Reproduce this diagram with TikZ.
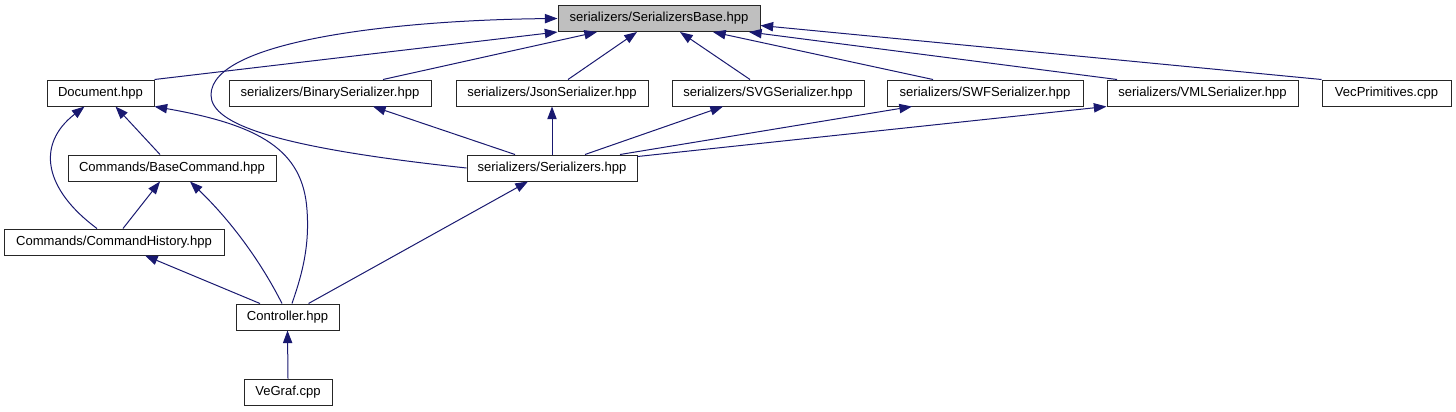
\documentclass[tikz,border=0pt]{standalone}
\usepackage{fontspec}
\setmainfont{Liberation Sans}
\usepackage{xcolor}
\usetikzlibrary{arrows.meta, calc}

\definecolor{edgeblue}{HTML}{191970}

\tikzset{
    file/.style={draw=black!85, line width=0.75pt, fill=white, inner sep=0pt,
        minimum width=#1*0.75pt, minimum height=19.5pt,
        font=\fontsize{9.8pt}{11pt}\selectfont},
    dep/.style={draw=edgeblue, line width=0.75pt,
        -{Triangle[length=9.5pt, width=7pt, fill=edgeblue]}}
}

\begin{document}
\begin{tikzpicture}[x=0.75pt, y=-0.75pt]
    \useasboundingbox (0,0) rectangle (1456,411);

    % Top row
    \node[file=202, fill=gray!50] (base) at (659,18.5) {serializers/SerializersBase.hpp};

    % Second row
    \node[file=107] (doc)    at (100.5,93)  {Document.hpp};
    \node[file=202] (binary) at (330,93)    {serializers/BinarySerializer.hpp};
    \node[file=192] (json)   at (552,93)    {serializers/JsonSerializer.hpp};
    \node[file=192] (svg)    at (768,93)    {serializers/SVGSerializer.hpp};
    \node[file=196] (swf)    at (985,93)    {serializers/SWFSerializer.hpp};
    \node[file=191] (vml)    at (1202.5,93) {serializers/VMLSerializer.hpp};
    \node[file=129] (vec)    at (1386.5,93) {VecPrimitives.cpp};

    % Lower rows
    \node[file=208] (basecmd) at (172,168)   {Commands/BaseCommand.hpp};
    \node[file=170] (ser)     at (552,168)   {serializers/Serializers.hpp};
    \node[file=220] (cmdhist) at (114,242)   {Commands/CommandHistory.hpp};
    \node[file=103] (ctrl)    at (287.5,317) {Controller.hpp};
    \node[file=88]  (vegraf)  at (288,392)   {VeGraf.cpp};

    % Into SerializersBase.hpp
    \draw[dep] (doc.north east) -- (base.south west);
    \draw[dep] (ser.west) .. controls (280,148) and (211,125) .. (211,95)
        .. controls (211,40) and (400,20) .. (base.west);
    \draw[dep] ($(binary.north)+(53,0)$) -- ($(base.south)+(-62,0)$);
    \draw[dep] ($(json.north)+(16,0)$) -- ($(base.south)+(-22,0)$);
    \draw[dep] ($(svg.north)+(-18,0)$) -- ($(base.south)+(21,0)$);
    \draw[dep] ($(swf.north)+(-52,0)$) -- ($(base.south)+(54,0)$);
    \draw[dep] ($(vml.north)+(-85.5,0)$) -- ($(base.south)+(90,0)$);
    \draw[dep] (vec.north west) -- ($(base.east)+(0,7)$);

    % Into the serializer headers
    \draw[dep] ($(ser.north)+(-37,0)$) -- ($(binary.south)+(43,0)$);
    \draw[dep] (ser.north) -- (json.south);
    \draw[dep] ($(ser.north)+(33,0)$) -- ($(svg.south)+(-45,0)$);
    \draw[dep] ($(ser.north)+(68,0)$) -- ($(swf.south)+(-73,0)$);
    \draw[dep] ($(ser.north east)+(0,2)$) -- (vml.south west);
    \draw[dep] ($(ctrl.north)+(21,0)$) -- ($(ser.south)+(-24,0)$);

    % Into Document.hpp
    \draw[dep] ($(cmdhist.north)+(-17,0)$) .. controls (45,190) and (35,145)
        .. ($(doc.south)+(-16,0)$);
    \draw[dep] ($(basecmd.north)+(-12,0)$) -- ($(doc.south)+(15,0)$);
    \draw[dep] ($(ctrl.north)+(4.5,0)$) .. controls (300,280) and (310,250) .. (307,210)
        .. controls (303,150) and (260,125) .. (doc.south east);

    % Into the command headers
    \draw[dep] ($(cmdhist.north)+(9,0)$) -- ($(basecmd.south)+(-12,0)$);
    \draw[dep] ($(ctrl.north)+(-5.5,0)$) .. controls (260,260) and (230,220)
        .. ($(basecmd.south)+(18,0)$);
    \draw[dep] ($(ctrl.north)+(-27.5,0)$) -- ($(cmdhist.south)+(31,0)$);
    \draw[dep] (vegraf.north) -- (ctrl.south);
\end{tikzpicture}
\end{document}
